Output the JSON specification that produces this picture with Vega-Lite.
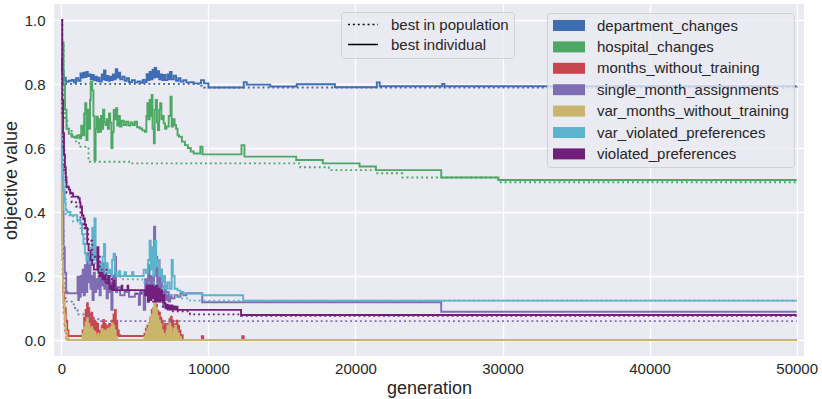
{
"$schema": "https://vega.github.io/schema/vega-lite/v6.json",
"width": 750,
"height": 352,
"autosize": {"type": "none"},
"padding": {"left": 54, "top": 4, "right": 18, "bottom": 43},
"background": "white",
"config": {
  "font": "Liberation Sans",
  "view": {"fill": "#EAEAF2", "stroke": null},
  "axis": {"domain": false, "ticks": false, "gridColor": "#FFFFFF", "gridWidth": 1.3, "labelFont": "Liberation Sans", "labelFontSize": 15, "labelColor": "#262626", "titleFont": "Liberation Sans", "titleFontSize": 18, "titleFontWeight": "normal", "titleColor": "#262626"},
  "legend": {"labelFont": "Liberation Sans", "labelFontSize": 15, "labelColor": "#262626", "labelLimit": 300}
},
"data": {"values": [
{"o":"department_changes","t":"best in population","g":0,"v":0.88},
{"o":"department_changes","t":"best in population","g":100,"v":0.82},
{"o":"department_changes","t":"best in population","g":250,"v":0.8},
{"o":"department_changes","t":"best in population","g":9500,"v":0.795},
{"o":"department_changes","t":"best in population","g":9700,"v":0.789},
{"o":"department_changes","t":"best in population","g":50000,"v":0.788},
{"o":"department_changes","t":"best individual","g":0,"v":0.88},
{"o":"department_changes","t":"best individual","g":40,"v":0.84},
{"o":"department_changes","t":"best individual","g":150,"v":0.82},
{"o":"department_changes","t":"best individual","g":300,"v":0.807},
{"o":"department_changes","t":"best individual","g":500,"v":0.81},
{"o":"department_changes","t":"best individual","g":700,"v":0.8125},
{"o":"department_changes","t":"best individual","g":850,"v":0.805},
{"o":"department_changes","t":"best individual","g":1000,"v":0.818},
{"o":"department_changes","t":"best individual","g":1150,"v":0.81},
{"o":"department_changes","t":"best individual","g":1300,"v":0.833},
{"o":"department_changes","t":"best individual","g":1400,"v":0.82},
{"o":"department_changes","t":"best individual","g":1500,"v":0.835},
{"o":"department_changes","t":"best individual","g":1600,"v":0.822},
{"o":"department_changes","t":"best individual","g":1700,"v":0.838},
{"o":"department_changes","t":"best individual","g":1800,"v":0.825},
{"o":"department_changes","t":"best individual","g":1900,"v":0.83},
{"o":"department_changes","t":"best individual","g":2000,"v":0.815},
{"o":"department_changes","t":"best individual","g":2100,"v":0.828},
{"o":"department_changes","t":"best individual","g":2200,"v":0.812},
{"o":"department_changes","t":"best individual","g":2300,"v":0.823},
{"o":"department_changes","t":"best individual","g":2400,"v":0.81},
{"o":"department_changes","t":"best individual","g":2500,"v":0.82},
{"o":"department_changes","t":"best individual","g":2600,"v":0.808},
{"o":"department_changes","t":"best individual","g":2750,"v":0.83},
{"o":"department_changes","t":"best individual","g":2850,"v":0.815},
{"o":"department_changes","t":"best individual","g":2900,"v":0.842},
{"o":"department_changes","t":"best individual","g":3000,"v":0.812},
{"o":"department_changes","t":"best individual","g":3100,"v":0.825},
{"o":"department_changes","t":"best individual","g":3200,"v":0.81},
{"o":"department_changes","t":"best individual","g":3300,"v":0.823},
{"o":"department_changes","t":"best individual","g":3400,"v":0.812},
{"o":"department_changes","t":"best individual","g":3500,"v":0.83},
{"o":"department_changes","t":"best individual","g":3600,"v":0.815},
{"o":"department_changes","t":"best individual","g":3700,"v":0.846},
{"o":"department_changes","t":"best individual","g":3800,"v":0.82},
{"o":"department_changes","t":"best individual","g":3900,"v":0.835},
{"o":"department_changes","t":"best individual","g":4000,"v":0.815},
{"o":"department_changes","t":"best individual","g":4150,"v":0.823},
{"o":"department_changes","t":"best individual","g":4300,"v":0.81},
{"o":"department_changes","t":"best individual","g":4450,"v":0.818},
{"o":"department_changes","t":"best individual","g":4600,"v":0.806},
{"o":"department_changes","t":"best individual","g":4800,"v":0.812},
{"o":"department_changes","t":"best individual","g":5000,"v":0.805},
{"o":"department_changes","t":"best individual","g":5200,"v":0.808},
{"o":"department_changes","t":"best individual","g":5400,"v":0.804},
{"o":"department_changes","t":"best individual","g":5550,"v":0.813},
{"o":"department_changes","t":"best individual","g":5700,"v":0.806},
{"o":"department_changes","t":"best individual","g":5800,"v":0.831},
{"o":"department_changes","t":"best individual","g":5900,"v":0.812},
{"o":"department_changes","t":"best individual","g":6000,"v":0.838},
{"o":"department_changes","t":"best individual","g":6100,"v":0.815},
{"o":"department_changes","t":"best individual","g":6200,"v":0.845},
{"o":"department_changes","t":"best individual","g":6300,"v":0.82},
{"o":"department_changes","t":"best individual","g":6350,"v":0.85},
{"o":"department_changes","t":"best individual","g":6450,"v":0.822},
{"o":"department_changes","t":"best individual","g":6550,"v":0.84},
{"o":"department_changes","t":"best individual","g":6650,"v":0.815},
{"o":"department_changes","t":"best individual","g":6750,"v":0.83},
{"o":"department_changes","t":"best individual","g":6850,"v":0.812},
{"o":"department_changes","t":"best individual","g":6950,"v":0.828},
{"o":"department_changes","t":"best individual","g":7050,"v":0.812},
{"o":"department_changes","t":"best individual","g":7200,"v":0.83},
{"o":"department_changes","t":"best individual","g":7300,"v":0.815},
{"o":"department_changes","t":"best individual","g":7380,"v":0.838},
{"o":"department_changes","t":"best individual","g":7500,"v":0.815},
{"o":"department_changes","t":"best individual","g":7650,"v":0.826},
{"o":"department_changes","t":"best individual","g":7800,"v":0.81},
{"o":"department_changes","t":"best individual","g":7950,"v":0.818},
{"o":"department_changes","t":"best individual","g":8100,"v":0.808},
{"o":"department_changes","t":"best individual","g":8300,"v":0.812},
{"o":"department_changes","t":"best individual","g":8500,"v":0.805},
{"o":"department_changes","t":"best individual","g":8800,"v":0.806},
{"o":"department_changes","t":"best individual","g":9000,"v":0.802},
{"o":"department_changes","t":"best individual","g":9500,"v":0.812},
{"o":"department_changes","t":"best individual","g":9700,"v":0.802},
{"o":"department_changes","t":"best individual","g":10000,"v":0.789},
{"o":"department_changes","t":"best individual","g":12400,"v":0.806},
{"o":"department_changes","t":"best individual","g":12600,"v":0.798},
{"o":"department_changes","t":"best individual","g":14200,"v":0.792},
{"o":"department_changes","t":"best individual","g":16000,"v":0.799},
{"o":"department_changes","t":"best individual","g":18600,"v":0.79},
{"o":"department_changes","t":"best individual","g":21450,"v":0.805},
{"o":"department_changes","t":"best individual","g":21650,"v":0.793},
{"o":"department_changes","t":"best individual","g":25900,"v":0.8},
{"o":"department_changes","t":"best individual","g":26050,"v":0.793},
{"o":"department_changes","t":"best individual","g":50000,"v":0.793},

{"o":"hospital_changes","t":"best in population","g":0,"v":0.93},
{"o":"hospital_changes","t":"best in population","g":150,"v":0.75},
{"o":"hospital_changes","t":"best in population","g":250,"v":0.69},
{"o":"hospital_changes","t":"best in population","g":400,"v":0.66},
{"o":"hospital_changes","t":"best in population","g":700,"v":0.64},
{"o":"hospital_changes","t":"best in population","g":1000,"v":0.615},
{"o":"hospital_changes","t":"best in population","g":1300,"v":0.604},
{"o":"hospital_changes","t":"best in population","g":1850,"v":0.557},
{"o":"hospital_changes","t":"best in population","g":4700,"v":0.552},
{"o":"hospital_changes","t":"best in population","g":16250,"v":0.54},
{"o":"hospital_changes","t":"best in population","g":18190,"v":0.531},
{"o":"hospital_changes","t":"best in population","g":21390,"v":0.521},
{"o":"hospital_changes","t":"best in population","g":23190,"v":0.508},
{"o":"hospital_changes","t":"best in population","g":29720,"v":0.493},
{"o":"hospital_changes","t":"best in population","g":50000,"v":0.493},
{"o":"hospital_changes","t":"best individual","g":0,"v":0.93},
{"o":"hospital_changes","t":"best individual","g":150,"v":0.8},
{"o":"hospital_changes","t":"best individual","g":250,"v":0.72},
{"o":"hospital_changes","t":"best individual","g":350,"v":0.66},
{"o":"hospital_changes","t":"best individual","g":500,"v":0.645},
{"o":"hospital_changes","t":"best individual","g":700,"v":0.635},
{"o":"hospital_changes","t":"best individual","g":900,"v":0.632},
{"o":"hospital_changes","t":"best individual","g":1100,"v":0.64},
{"o":"hospital_changes","t":"best individual","g":1250,"v":0.63},
{"o":"hospital_changes","t":"best individual","g":1350,"v":0.67},
{"o":"hospital_changes","t":"best individual","g":1450,"v":0.64},
{"o":"hospital_changes","t":"best individual","g":1550,"v":0.708},
{"o":"hospital_changes","t":"best individual","g":1620,"v":0.74},
{"o":"hospital_changes","t":"best individual","g":1700,"v":0.625},
{"o":"hospital_changes","t":"best individual","g":1780,"v":0.72},
{"o":"hospital_changes","t":"best individual","g":1850,"v":0.66},
{"o":"hospital_changes","t":"best individual","g":1950,"v":0.75},
{"o":"hospital_changes","t":"best individual","g":2000,"v":0.807},
{"o":"hospital_changes","t":"best individual","g":2100,"v":0.78},
{"o":"hospital_changes","t":"best individual","g":2180,"v":0.7},
{"o":"hospital_changes","t":"best individual","g":2250,"v":0.5625},
{"o":"hospital_changes","t":"best individual","g":2330,"v":0.66},
{"o":"hospital_changes","t":"best individual","g":2400,"v":0.698},
{"o":"hospital_changes","t":"best individual","g":2480,"v":0.65},
{"o":"hospital_changes","t":"best individual","g":2560,"v":0.69},
{"o":"hospital_changes","t":"best individual","g":2620,"v":0.651},
{"o":"hospital_changes","t":"best individual","g":2700,"v":0.7},
{"o":"hospital_changes","t":"best individual","g":2780,"v":0.66},
{"o":"hospital_changes","t":"best individual","g":2840,"v":0.72},
{"o":"hospital_changes","t":"best individual","g":2920,"v":0.68},
{"o":"hospital_changes","t":"best individual","g":3000,"v":0.672},
{"o":"hospital_changes","t":"best individual","g":3080,"v":0.69},
{"o":"hospital_changes","t":"best individual","g":3160,"v":0.66},
{"o":"hospital_changes","t":"best individual","g":3240,"v":0.708},
{"o":"hospital_changes","t":"best individual","g":3320,"v":0.68},
{"o":"hospital_changes","t":"best individual","g":3400,"v":0.6},
{"o":"hospital_changes","t":"best individual","g":3480,"v":0.65},
{"o":"hospital_changes","t":"best individual","g":3560,"v":0.719},
{"o":"hospital_changes","t":"best individual","g":3640,"v":0.69},
{"o":"hospital_changes","t":"best individual","g":3720,"v":0.724},
{"o":"hospital_changes","t":"best individual","g":3800,"v":0.67},
{"o":"hospital_changes","t":"best individual","g":3880,"v":0.7},
{"o":"hospital_changes","t":"best individual","g":3980,"v":0.667},
{"o":"hospital_changes","t":"best individual","g":4100,"v":0.685},
{"o":"hospital_changes","t":"best individual","g":4250,"v":0.672},
{"o":"hospital_changes","t":"best individual","g":4400,"v":0.682},
{"o":"hospital_changes","t":"best individual","g":4550,"v":0.67},
{"o":"hospital_changes","t":"best individual","g":4700,"v":0.68},
{"o":"hospital_changes","t":"best individual","g":4850,"v":0.672},
{"o":"hospital_changes","t":"best individual","g":5000,"v":0.682},
{"o":"hospital_changes","t":"best individual","g":5150,"v":0.665},
{"o":"hospital_changes","t":"best individual","g":5340,"v":0.661},
{"o":"hospital_changes","t":"best individual","g":5500,"v":0.655},
{"o":"hospital_changes","t":"best individual","g":5680,"v":0.651},
{"o":"hospital_changes","t":"best individual","g":5780,"v":0.7},
{"o":"hospital_changes","t":"best individual","g":5850,"v":0.74},
{"o":"hospital_changes","t":"best individual","g":5920,"v":0.69},
{"o":"hospital_changes","t":"best individual","g":6000,"v":0.75},
{"o":"hospital_changes","t":"best individual","g":6080,"v":0.7},
{"o":"hospital_changes","t":"best individual","g":6140,"v":0.766},
{"o":"hospital_changes","t":"best individual","g":6200,"v":0.66},
{"o":"hospital_changes","t":"best individual","g":6290,"v":0.615},
{"o":"hospital_changes","t":"best individual","g":6350,"v":0.72},
{"o":"hospital_changes","t":"best individual","g":6420,"v":0.75},
{"o":"hospital_changes","t":"best individual","g":6500,"v":0.68},
{"o":"hospital_changes","t":"best individual","g":6570,"v":0.656},
{"o":"hospital_changes","t":"best individual","g":6650,"v":0.72},
{"o":"hospital_changes","t":"best individual","g":6720,"v":0.74},
{"o":"hospital_changes","t":"best individual","g":6800,"v":0.69},
{"o":"hospital_changes","t":"best individual","g":6880,"v":0.7},
{"o":"hospital_changes","t":"best individual","g":6960,"v":0.677},
{"o":"hospital_changes","t":"best individual","g":7050,"v":0.66},
{"o":"hospital_changes","t":"best individual","g":7150,"v":0.667},
{"o":"hospital_changes","t":"best individual","g":7300,"v":0.7},
{"o":"hospital_changes","t":"best individual","g":7420,"v":0.76},
{"o":"hospital_changes","t":"best individual","g":7500,"v":0.667},
{"o":"hospital_changes","t":"best individual","g":7600,"v":0.69},
{"o":"hospital_changes","t":"best individual","g":7700,"v":0.672},
{"o":"hospital_changes","t":"best individual","g":7800,"v":0.66},
{"o":"hospital_changes","t":"best individual","g":7900,"v":0.64},
{"o":"hospital_changes","t":"best individual","g":8000,"v":0.635},
{"o":"hospital_changes","t":"best individual","g":8200,"v":0.62},
{"o":"hospital_changes","t":"best individual","g":8400,"v":0.609},
{"o":"hospital_changes","t":"best individual","g":8600,"v":0.6},
{"o":"hospital_changes","t":"best individual","g":8800,"v":0.589},
{"o":"hospital_changes","t":"best individual","g":9000,"v":0.583},
{"o":"hospital_changes","t":"best individual","g":9450,"v":0.604},
{"o":"hospital_changes","t":"best individual","g":9600,"v":0.58},
{"o":"hospital_changes","t":"best individual","g":12250,"v":0.609},
{"o":"hospital_changes","t":"best individual","g":12450,"v":0.573},
{"o":"hospital_changes","t":"best individual","g":15970,"v":0.5625},
{"o":"hospital_changes","t":"best individual","g":17780,"v":0.552},
{"o":"hospital_changes","t":"best individual","g":20280,"v":0.542},
{"o":"hospital_changes","t":"best individual","g":21390,"v":0.531},
{"o":"hospital_changes","t":"best individual","g":25830,"v":0.508},
{"o":"hospital_changes","t":"best individual","g":29720,"v":0.5},
{"o":"hospital_changes","t":"best individual","g":50000,"v":0.5},

{"o":"months_without_training","t":"best in population","g":0,"v":0.45},
{"o":"months_without_training","t":"best in population","g":80,"v":0.2},
{"o":"months_without_training","t":"best in population","g":150,"v":0.08},
{"o":"months_without_training","t":"best in population","g":250,"v":0.03},
{"o":"months_without_training","t":"best in population","g":350,"v":0},
{"o":"months_without_training","t":"best in population","g":50000,"v":0},
{"o":"months_without_training","t":"best individual","g":0,"v":0.45},
{"o":"months_without_training","t":"best individual","g":60,"v":0.3},
{"o":"months_without_training","t":"best individual","g":120,"v":0.15},
{"o":"months_without_training","t":"best individual","g":200,"v":0.1},
{"o":"months_without_training","t":"best individual","g":300,"v":0.06},
{"o":"months_without_training","t":"best individual","g":400,"v":0.03},
{"o":"months_without_training","t":"best individual","g":480,"v":0.0125},
{"o":"months_without_training","t":"best individual","g":1450,"v":0.03},
{"o":"months_without_training","t":"best individual","g":1500,"v":0.0125},
{"o":"months_without_training","t":"best individual","g":1550,"v":0.07},
{"o":"months_without_training","t":"best individual","g":1600,"v":0.0125},
{"o":"months_without_training","t":"best individual","g":1650,"v":0.094},
{"o":"months_without_training","t":"best individual","g":1700,"v":0.0125},
{"o":"months_without_training","t":"best individual","g":1750,"v":0.115},
{"o":"months_without_training","t":"best individual","g":1800,"v":0.0125},
{"o":"months_without_training","t":"best individual","g":1850,"v":0.1},
{"o":"months_without_training","t":"best individual","g":1900,"v":0.0125},
{"o":"months_without_training","t":"best individual","g":1950,"v":0.08},
{"o":"months_without_training","t":"best individual","g":2000,"v":0.0125},
{"o":"months_without_training","t":"best individual","g":2050,"v":0.085},
{"o":"months_without_training","t":"best individual","g":2100,"v":0.0125},
{"o":"months_without_training","t":"best individual","g":2150,"v":0.07},
{"o":"months_without_training","t":"best individual","g":2200,"v":0.0125},
{"o":"months_without_training","t":"best individual","g":2250,"v":0.06},
{"o":"months_without_training","t":"best individual","g":2300,"v":0.0125},
{"o":"months_without_training","t":"best individual","g":2350,"v":0.055},
{"o":"months_without_training","t":"best individual","g":2400,"v":0.0125},
{"o":"months_without_training","t":"best individual","g":2450,"v":0.05},
{"o":"months_without_training","t":"best individual","g":2500,"v":0.0125},
{"o":"months_without_training","t":"best individual","g":2550,"v":0.03},
{"o":"months_without_training","t":"best individual","g":2600,"v":0.0125},
{"o":"months_without_training","t":"best individual","g":2650,"v":0.02},
{"o":"months_without_training","t":"best individual","g":2700,"v":0.0125},
{"o":"months_without_training","t":"best individual","g":2750,"v":0.045},
{"o":"months_without_training","t":"best individual","g":2800,"v":0.0125},
{"o":"months_without_training","t":"best individual","g":2850,"v":0.0625},
{"o":"months_without_training","t":"best individual","g":2900,"v":0.0125},
{"o":"months_without_training","t":"best individual","g":2950,"v":0.05},
{"o":"months_without_training","t":"best individual","g":3000,"v":0.0125},
{"o":"months_without_training","t":"best individual","g":3050,"v":0.045},
{"o":"months_without_training","t":"best individual","g":3100,"v":0.0125},
{"o":"months_without_training","t":"best individual","g":3150,"v":0.04},
{"o":"months_without_training","t":"best individual","g":3200,"v":0.0125},
{"o":"months_without_training","t":"best individual","g":3250,"v":0.05},
{"o":"months_without_training","t":"best individual","g":3300,"v":0.0125},
{"o":"months_without_training","t":"best individual","g":3350,"v":0.045},
{"o":"months_without_training","t":"best individual","g":3400,"v":0.0125},
{"o":"months_without_training","t":"best individual","g":3450,"v":0.06},
{"o":"months_without_training","t":"best individual","g":3500,"v":0.0125},
{"o":"months_without_training","t":"best individual","g":3550,"v":0.08},
{"o":"months_without_training","t":"best individual","g":3600,"v":0.0125},
{"o":"months_without_training","t":"best individual","g":3650,"v":0.094},
{"o":"months_without_training","t":"best individual","g":3700,"v":0.0125},
{"o":"months_without_training","t":"best individual","g":3750,"v":0.06},
{"o":"months_without_training","t":"best individual","g":3800,"v":0.0125},
{"o":"months_without_training","t":"best individual","g":3850,"v":0.03},
{"o":"months_without_training","t":"best individual","g":3900,"v":0.0125},
{"o":"months_without_training","t":"best individual","g":3950,"v":0.015},
{"o":"months_without_training","t":"best individual","g":4000,"v":0.0125},
{"o":"months_without_training","t":"best individual","g":5650,"v":0.02},
{"o":"months_without_training","t":"best individual","g":5700,"v":0.0125},
{"o":"months_without_training","t":"best individual","g":5750,"v":0.035},
{"o":"months_without_training","t":"best individual","g":5800,"v":0.0125},
{"o":"months_without_training","t":"best individual","g":5850,"v":0.045},
{"o":"months_without_training","t":"best individual","g":5900,"v":0.0125},
{"o":"months_without_training","t":"best individual","g":5950,"v":0.052},
{"o":"months_without_training","t":"best individual","g":6000,"v":0.0125},
{"o":"months_without_training","t":"best individual","g":6050,"v":0.07},
{"o":"months_without_training","t":"best individual","g":6100,"v":0.0125},
{"o":"months_without_training","t":"best individual","g":6150,"v":0.094},
{"o":"months_without_training","t":"best individual","g":6200,"v":0.0125},
{"o":"months_without_training","t":"best individual","g":6250,"v":0.1},
{"o":"months_without_training","t":"best individual","g":6300,"v":0.0125},
{"o":"months_without_training","t":"best individual","g":6350,"v":0.115},
{"o":"months_without_training","t":"best individual","g":6400,"v":0.0125},
{"o":"months_without_training","t":"best individual","g":6450,"v":0.11},
{"o":"months_without_training","t":"best individual","g":6500,"v":0.0125},
{"o":"months_without_training","t":"best individual","g":6550,"v":0.09},
{"o":"months_without_training","t":"best individual","g":6600,"v":0.0125},
{"o":"months_without_training","t":"best individual","g":6650,"v":0.085},
{"o":"months_without_training","t":"best individual","g":6700,"v":0.0125},
{"o":"months_without_training","t":"best individual","g":6750,"v":0.07},
{"o":"months_without_training","t":"best individual","g":6800,"v":0.0125},
{"o":"months_without_training","t":"best individual","g":6850,"v":0.06},
{"o":"months_without_training","t":"best individual","g":6900,"v":0.0125},
{"o":"months_without_training","t":"best individual","g":6950,"v":0.04},
{"o":"months_without_training","t":"best individual","g":7000,"v":0.0125},
{"o":"months_without_training","t":"best individual","g":7050,"v":0.05},
{"o":"months_without_training","t":"best individual","g":7100,"v":0.0125},
{"o":"months_without_training","t":"best individual","g":7150,"v":0.03},
{"o":"months_without_training","t":"best individual","g":7200,"v":0.0125},
{"o":"months_without_training","t":"best individual","g":7250,"v":0.05},
{"o":"months_without_training","t":"best individual","g":7300,"v":0.0125},
{"o":"months_without_training","t":"best individual","g":7350,"v":0.065},
{"o":"months_without_training","t":"best individual","g":7400,"v":0.0125},
{"o":"months_without_training","t":"best individual","g":7450,"v":0.073},
{"o":"months_without_training","t":"best individual","g":7500,"v":0.0125},
{"o":"months_without_training","t":"best individual","g":7550,"v":0.06},
{"o":"months_without_training","t":"best individual","g":7600,"v":0.0125},
{"o":"months_without_training","t":"best individual","g":7650,"v":0.04},
{"o":"months_without_training","t":"best individual","g":7700,"v":0.0125},
{"o":"months_without_training","t":"best individual","g":7750,"v":0.05},
{"o":"months_without_training","t":"best individual","g":7800,"v":0.0125},
{"o":"months_without_training","t":"best individual","g":7850,"v":0.06},
{"o":"months_without_training","t":"best individual","g":7900,"v":0.0125},
{"o":"months_without_training","t":"best individual","g":7950,"v":0.045},
{"o":"months_without_training","t":"best individual","g":8000,"v":0.0125},
{"o":"months_without_training","t":"best individual","g":8050,"v":0.03},
{"o":"months_without_training","t":"best individual","g":8100,"v":0.0125},
{"o":"months_without_training","t":"best individual","g":8150,"v":0.015},
{"o":"months_without_training","t":"best individual","g":8250,"v":0},
{"o":"months_without_training","t":"best individual","g":9550,"v":0.012},
{"o":"months_without_training","t":"best individual","g":9650,"v":0},
{"o":"months_without_training","t":"best individual","g":12300,"v":0.012},
{"o":"months_without_training","t":"best individual","g":12400,"v":0},
{"o":"months_without_training","t":"best individual","g":50000,"v":0},

{"o":"single_month_assignments","t":"best in population","g":0,"v":0.55},
{"o":"single_month_assignments","t":"best in population","g":80,"v":0.35},
{"o":"single_month_assignments","t":"best in population","g":150,"v":0.2},
{"o":"single_month_assignments","t":"best in population","g":280,"v":0.12},
{"o":"single_month_assignments","t":"best in population","g":850,"v":0.1},
{"o":"single_month_assignments","t":"best in population","g":1100,"v":0.08},
{"o":"single_month_assignments","t":"best in population","g":2000,"v":0.065},
{"o":"single_month_assignments","t":"best in population","g":2600,"v":0.059},
{"o":"single_month_assignments","t":"best in population","g":50000,"v":0.059},
{"o":"single_month_assignments","t":"best individual","g":0,"v":0.55},
{"o":"single_month_assignments","t":"best individual","g":80,"v":0.4},
{"o":"single_month_assignments","t":"best individual","g":150,"v":0.29},
{"o":"single_month_assignments","t":"best individual","g":230,"v":0.21},
{"o":"single_month_assignments","t":"best individual","g":330,"v":0.151},
{"o":"single_month_assignments","t":"best individual","g":400,"v":0.146},
{"o":"single_month_assignments","t":"best individual","g":1100,"v":0.198},
{"o":"single_month_assignments","t":"best individual","g":1150,"v":0.125},
{"o":"single_month_assignments","t":"best individual","g":1200,"v":0.198},
{"o":"single_month_assignments","t":"best individual","g":1260,"v":0.135},
{"o":"single_month_assignments","t":"best individual","g":1320,"v":0.2},
{"o":"single_month_assignments","t":"best individual","g":1380,"v":0.15},
{"o":"single_month_assignments","t":"best individual","g":1450,"v":0.22},
{"o":"single_month_assignments","t":"best individual","g":1520,"v":0.14},
{"o":"single_month_assignments","t":"best individual","g":1600,"v":0.234},
{"o":"single_month_assignments","t":"best individual","g":1680,"v":0.15},
{"o":"single_month_assignments","t":"best individual","g":1760,"v":0.271},
{"o":"single_month_assignments","t":"best individual","g":1820,"v":0.18},
{"o":"single_month_assignments","t":"best individual","g":1900,"v":0.25},
{"o":"single_month_assignments","t":"best individual","g":1980,"v":0.16},
{"o":"single_month_assignments","t":"best individual","g":2050,"v":0.2},
{"o":"single_month_assignments","t":"best individual","g":2120,"v":0.125},
{"o":"single_month_assignments","t":"best individual","g":2200,"v":0.21},
{"o":"single_month_assignments","t":"best individual","g":2280,"v":0.15},
{"o":"single_month_assignments","t":"best individual","g":2360,"v":0.19},
{"o":"single_month_assignments","t":"best individual","g":2440,"v":0.16},
{"o":"single_month_assignments","t":"best individual","g":2520,"v":0.2},
{"o":"single_month_assignments","t":"best individual","g":2600,"v":0.14},
{"o":"single_month_assignments","t":"best individual","g":2680,"v":0.24},
{"o":"single_month_assignments","t":"best individual","g":2760,"v":0.17},
{"o":"single_month_assignments","t":"best individual","g":2840,"v":0.24},
{"o":"single_month_assignments","t":"best individual","g":2920,"v":0.16},
{"o":"single_month_assignments","t":"best individual","g":3000,"v":0.21},
{"o":"single_month_assignments","t":"best individual","g":3080,"v":0.13},
{"o":"single_month_assignments","t":"best individual","g":3160,"v":0.2},
{"o":"single_month_assignments","t":"best individual","g":3240,"v":0.15},
{"o":"single_month_assignments","t":"best individual","g":3320,"v":0.18},
{"o":"single_month_assignments","t":"best individual","g":3400,"v":0.094},
{"o":"single_month_assignments","t":"best individual","g":3480,"v":0.2},
{"o":"single_month_assignments","t":"best individual","g":3560,"v":0.16},
{"o":"single_month_assignments","t":"best individual","g":3640,"v":0.26},
{"o":"single_month_assignments","t":"best individual","g":3720,"v":0.15},
{"o":"single_month_assignments","t":"best individual","g":3800,"v":0.165},
{"o":"single_month_assignments","t":"best individual","g":4000,"v":0.14},
{"o":"single_month_assignments","t":"best individual","g":4300,"v":0.15},
{"o":"single_month_assignments","t":"best individual","g":4600,"v":0.135},
{"o":"single_month_assignments","t":"best individual","g":5000,"v":0.145},
{"o":"single_month_assignments","t":"best individual","g":5270,"v":0.11},
{"o":"single_month_assignments","t":"best individual","g":5350,"v":0.15},
{"o":"single_month_assignments","t":"best individual","g":5600,"v":0.094},
{"o":"single_month_assignments","t":"best individual","g":5700,"v":0.19},
{"o":"single_month_assignments","t":"best individual","g":5800,"v":0.15},
{"o":"single_month_assignments","t":"best individual","g":5900,"v":0.234},
{"o":"single_month_assignments","t":"best individual","g":6000,"v":0.16},
{"o":"single_month_assignments","t":"best individual","g":6100,"v":0.2},
{"o":"single_month_assignments","t":"best individual","g":6200,"v":0.15},
{"o":"single_month_assignments","t":"best individual","g":6300,"v":0.354},
{"o":"single_month_assignments","t":"best individual","g":6380,"v":0.2},
{"o":"single_month_assignments","t":"best individual","g":6450,"v":0.26},
{"o":"single_month_assignments","t":"best individual","g":6520,"v":0.15},
{"o":"single_month_assignments","t":"best individual","g":6600,"v":0.25},
{"o":"single_month_assignments","t":"best individual","g":6680,"v":0.13},
{"o":"single_month_assignments","t":"best individual","g":6760,"v":0.22},
{"o":"single_month_assignments","t":"best individual","g":6840,"v":0.15},
{"o":"single_month_assignments","t":"best individual","g":6920,"v":0.104},
{"o":"single_month_assignments","t":"best individual","g":7000,"v":0.17},
{"o":"single_month_assignments","t":"best individual","g":7100,"v":0.125},
{"o":"single_month_assignments","t":"best individual","g":7200,"v":0.15},
{"o":"single_month_assignments","t":"best individual","g":7300,"v":0.12},
{"o":"single_month_assignments","t":"best individual","g":7400,"v":0.14},
{"o":"single_month_assignments","t":"best individual","g":7500,"v":0.13},
{"o":"single_month_assignments","t":"best individual","g":7700,"v":0.14},
{"o":"single_month_assignments","t":"best individual","g":7900,"v":0.135},
{"o":"single_month_assignments","t":"best individual","g":8100,"v":0.145},
{"o":"single_month_assignments","t":"best individual","g":8300,"v":0.14},
{"o":"single_month_assignments","t":"best individual","g":8500,"v":0.146},
{"o":"single_month_assignments","t":"best individual","g":9580,"v":0.118},
{"o":"single_month_assignments","t":"best individual","g":25830,"v":0.0885},
{"o":"single_month_assignments","t":"best individual","g":50000,"v":0.0885},

{"o":"var_months_without_training","t":"best in population","g":0,"v":0.75},
{"o":"var_months_without_training","t":"best in population","g":50,"v":0.3},
{"o":"var_months_without_training","t":"best in population","g":120,"v":0.12},
{"o":"var_months_without_training","t":"best in population","g":200,"v":0.05},
{"o":"var_months_without_training","t":"best in population","g":300,"v":0.01},
{"o":"var_months_without_training","t":"best in population","g":400,"v":0},
{"o":"var_months_without_training","t":"best in population","g":50000,"v":0},
{"o":"var_months_without_training","t":"best individual","g":0,"v":0.75},
{"o":"var_months_without_training","t":"best individual","g":30,"v":0.45},
{"o":"var_months_without_training","t":"best individual","g":60,"v":0.25},
{"o":"var_months_without_training","t":"best individual","g":100,"v":0.178},
{"o":"var_months_without_training","t":"best individual","g":150,"v":0.12},
{"o":"var_months_without_training","t":"best individual","g":200,"v":0.08},
{"o":"var_months_without_training","t":"best individual","g":250,"v":0.05},
{"o":"var_months_without_training","t":"best individual","g":300,"v":0.026},
{"o":"var_months_without_training","t":"best individual","g":400,"v":0.005},
{"o":"var_months_without_training","t":"best individual","g":500,"v":0},
{"o":"var_months_without_training","t":"best individual","g":1450,"v":0.02},
{"o":"var_months_without_training","t":"best individual","g":1500,"v":0},
{"o":"var_months_without_training","t":"best individual","g":1550,"v":0.04},
{"o":"var_months_without_training","t":"best individual","g":1600,"v":0},
{"o":"var_months_without_training","t":"best individual","g":1650,"v":0.055},
{"o":"var_months_without_training","t":"best individual","g":1700,"v":0},
{"o":"var_months_without_training","t":"best individual","g":1750,"v":0.068},
{"o":"var_months_without_training","t":"best individual","g":1800,"v":0},
{"o":"var_months_without_training","t":"best individual","g":1850,"v":0.05},
{"o":"var_months_without_training","t":"best individual","g":1900,"v":0},
{"o":"var_months_without_training","t":"best individual","g":1950,"v":0.035},
{"o":"var_months_without_training","t":"best individual","g":2000,"v":0},
{"o":"var_months_without_training","t":"best individual","g":2050,"v":0.04},
{"o":"var_months_without_training","t":"best individual","g":2100,"v":0},
{"o":"var_months_without_training","t":"best individual","g":2150,"v":0.03},
{"o":"var_months_without_training","t":"best individual","g":2200,"v":0},
{"o":"var_months_without_training","t":"best individual","g":2250,"v":0.025},
{"o":"var_months_without_training","t":"best individual","g":2300,"v":0},
{"o":"var_months_without_training","t":"best individual","g":2350,"v":0.01},
{"o":"var_months_without_training","t":"best individual","g":2400,"v":0},
{"o":"var_months_without_training","t":"best individual","g":2450,"v":0.02},
{"o":"var_months_without_training","t":"best individual","g":2500,"v":0},
{"o":"var_months_without_training","t":"best individual","g":2550,"v":0.005},
{"o":"var_months_without_training","t":"best individual","g":2600,"v":0},
{"o":"var_months_without_training","t":"best individual","g":2650,"v":0.02},
{"o":"var_months_without_training","t":"best individual","g":2700,"v":0},
{"o":"var_months_without_training","t":"best individual","g":2750,"v":0.034},
{"o":"var_months_without_training","t":"best individual","g":2800,"v":0},
{"o":"var_months_without_training","t":"best individual","g":2850,"v":0.03},
{"o":"var_months_without_training","t":"best individual","g":2900,"v":0},
{"o":"var_months_without_training","t":"best individual","g":2950,"v":0.025},
{"o":"var_months_without_training","t":"best individual","g":3000,"v":0},
{"o":"var_months_without_training","t":"best individual","g":3050,"v":0.03},
{"o":"var_months_without_training","t":"best individual","g":3100,"v":0},
{"o":"var_months_without_training","t":"best individual","g":3150,"v":0.035},
{"o":"var_months_without_training","t":"best individual","g":3200,"v":0},
{"o":"var_months_without_training","t":"best individual","g":3250,"v":0.03},
{"o":"var_months_without_training","t":"best individual","g":3300,"v":0},
{"o":"var_months_without_training","t":"best individual","g":3350,"v":0.04},
{"o":"var_months_without_training","t":"best individual","g":3400,"v":0},
{"o":"var_months_without_training","t":"best individual","g":3450,"v":0.052},
{"o":"var_months_without_training","t":"best individual","g":3500,"v":0},
{"o":"var_months_without_training","t":"best individual","g":3550,"v":0.045},
{"o":"var_months_without_training","t":"best individual","g":3600,"v":0},
{"o":"var_months_without_training","t":"best individual","g":3650,"v":0.03},
{"o":"var_months_without_training","t":"best individual","g":3700,"v":0},
{"o":"var_months_without_training","t":"best individual","g":3750,"v":0.01},
{"o":"var_months_without_training","t":"best individual","g":3800,"v":0},
{"o":"var_months_without_training","t":"best individual","g":5650,"v":0.01},
{"o":"var_months_without_training","t":"best individual","g":5700,"v":0},
{"o":"var_months_without_training","t":"best individual","g":5750,"v":0.025},
{"o":"var_months_without_training","t":"best individual","g":5800,"v":0},
{"o":"var_months_without_training","t":"best individual","g":5850,"v":0.035},
{"o":"var_months_without_training","t":"best individual","g":5900,"v":0},
{"o":"var_months_without_training","t":"best individual","g":5950,"v":0.05},
{"o":"var_months_without_training","t":"best individual","g":6000,"v":0},
{"o":"var_months_without_training","t":"best individual","g":6050,"v":0.068},
{"o":"var_months_without_training","t":"best individual","g":6100,"v":0},
{"o":"var_months_without_training","t":"best individual","g":6150,"v":0.08},
{"o":"var_months_without_training","t":"best individual","g":6200,"v":0},
{"o":"var_months_without_training","t":"best individual","g":6250,"v":0.1},
{"o":"var_months_without_training","t":"best individual","g":6300,"v":0},
{"o":"var_months_without_training","t":"best individual","g":6350,"v":0.12},
{"o":"var_months_without_training","t":"best individual","g":6400,"v":0},
{"o":"var_months_without_training","t":"best individual","g":6450,"v":0.1},
{"o":"var_months_without_training","t":"best individual","g":6500,"v":0},
{"o":"var_months_without_training","t":"best individual","g":6550,"v":0.075},
{"o":"var_months_without_training","t":"best individual","g":6600,"v":0},
{"o":"var_months_without_training","t":"best individual","g":6650,"v":0.06},
{"o":"var_months_without_training","t":"best individual","g":6700,"v":0},
{"o":"var_months_without_training","t":"best individual","g":6750,"v":0.05},
{"o":"var_months_without_training","t":"best individual","g":6800,"v":0},
{"o":"var_months_without_training","t":"best individual","g":6850,"v":0.03},
{"o":"var_months_without_training","t":"best individual","g":6900,"v":0},
{"o":"var_months_without_training","t":"best individual","g":6950,"v":0.02},
{"o":"var_months_without_training","t":"best individual","g":7000,"v":0},
{"o":"var_months_without_training","t":"best individual","g":7050,"v":0.01},
{"o":"var_months_without_training","t":"best individual","g":7100,"v":0},
{"o":"var_months_without_training","t":"best individual","g":7150,"v":0.03},
{"o":"var_months_without_training","t":"best individual","g":7200,"v":0},
{"o":"var_months_without_training","t":"best individual","g":7250,"v":0.045},
{"o":"var_months_without_training","t":"best individual","g":7300,"v":0},
{"o":"var_months_without_training","t":"best individual","g":7350,"v":0.052},
{"o":"var_months_without_training","t":"best individual","g":7400,"v":0},
{"o":"var_months_without_training","t":"best individual","g":7450,"v":0.04},
{"o":"var_months_without_training","t":"best individual","g":7500,"v":0},
{"o":"var_months_without_training","t":"best individual","g":7550,"v":0.02},
{"o":"var_months_without_training","t":"best individual","g":7600,"v":0},
{"o":"var_months_without_training","t":"best individual","g":7650,"v":0.035},
{"o":"var_months_without_training","t":"best individual","g":7700,"v":0},
{"o":"var_months_without_training","t":"best individual","g":7750,"v":0.045},
{"o":"var_months_without_training","t":"best individual","g":7800,"v":0},
{"o":"var_months_without_training","t":"best individual","g":7850,"v":0.03},
{"o":"var_months_without_training","t":"best individual","g":7900,"v":0},
{"o":"var_months_without_training","t":"best individual","g":7950,"v":0.02},
{"o":"var_months_without_training","t":"best individual","g":8000,"v":0},
{"o":"var_months_without_training","t":"best individual","g":8050,"v":0.01},
{"o":"var_months_without_training","t":"best individual","g":8100,"v":0},
{"o":"var_months_without_training","t":"best individual","g":50000,"v":0},

{"o":"var_violated_preferences","t":"best in population","g":0,"v":0.72},
{"o":"var_violated_preferences","t":"best in population","g":50,"v":0.55},
{"o":"var_violated_preferences","t":"best in population","g":150,"v":0.45},
{"o":"var_violated_preferences","t":"best in population","g":300,"v":0.39},
{"o":"var_violated_preferences","t":"best in population","g":800,"v":0.37},
{"o":"var_violated_preferences","t":"best in population","g":1300,"v":0.35},
{"o":"var_violated_preferences","t":"best in population","g":1600,"v":0.3},
{"o":"var_violated_preferences","t":"best in population","g":2000,"v":0.24},
{"o":"var_violated_preferences","t":"best in population","g":2500,"v":0.21},
{"o":"var_violated_preferences","t":"best in population","g":3000,"v":0.2},
{"o":"var_violated_preferences","t":"best in population","g":4000,"v":0.19},
{"o":"var_violated_preferences","t":"best in population","g":5500,"v":0.18},
{"o":"var_violated_preferences","t":"best in population","g":6500,"v":0.16},
{"o":"var_violated_preferences","t":"best in population","g":7200,"v":0.14},
{"o":"var_violated_preferences","t":"best in population","g":8000,"v":0.13},
{"o":"var_violated_preferences","t":"best in population","g":8750,"v":0.123},
{"o":"var_violated_preferences","t":"best in population","g":50000,"v":0.123},
{"o":"var_violated_preferences","t":"best individual","g":0,"v":0.72},
{"o":"var_violated_preferences","t":"best individual","g":40,"v":0.6},
{"o":"var_violated_preferences","t":"best individual","g":60,"v":0.54},
{"o":"var_violated_preferences","t":"best individual","g":100,"v":0.5},
{"o":"var_violated_preferences","t":"best individual","g":150,"v":0.47},
{"o":"var_violated_preferences","t":"best individual","g":230,"v":0.43},
{"o":"var_violated_preferences","t":"best individual","g":280,"v":0.406},
{"o":"var_violated_preferences","t":"best individual","g":400,"v":0.4},
{"o":"var_violated_preferences","t":"best individual","g":620,"v":0.39},
{"o":"var_violated_preferences","t":"best individual","g":1080,"v":0.375},
{"o":"var_violated_preferences","t":"best individual","g":1300,"v":0.365},
{"o":"var_violated_preferences","t":"best individual","g":1400,"v":0.33},
{"o":"var_violated_preferences","t":"best individual","g":1500,"v":0.3},
{"o":"var_violated_preferences","t":"best individual","g":1600,"v":0.27},
{"o":"var_violated_preferences","t":"best individual","g":1700,"v":0.25},
{"o":"var_violated_preferences","t":"best individual","g":1800,"v":0.26},
{"o":"var_violated_preferences","t":"best individual","g":1900,"v":0.24},
{"o":"var_violated_preferences","t":"best individual","g":2000,"v":0.25},
{"o":"var_violated_preferences","t":"best individual","g":2100,"v":0.35},
{"o":"var_violated_preferences","t":"best individual","g":2180,"v":0.25},
{"o":"var_violated_preferences","t":"best individual","g":2250,"v":0.38},
{"o":"var_violated_preferences","t":"best individual","g":2330,"v":0.26},
{"o":"var_violated_preferences","t":"best individual","g":2400,"v":0.25},
{"o":"var_violated_preferences","t":"best individual","g":2500,"v":0.22},
{"o":"var_violated_preferences","t":"best individual","g":2600,"v":0.235},
{"o":"var_violated_preferences","t":"best individual","g":2700,"v":0.21},
{"o":"var_violated_preferences","t":"best individual","g":2800,"v":0.26},
{"o":"var_violated_preferences","t":"best individual","g":2900,"v":0.3},
{"o":"var_violated_preferences","t":"best individual","g":2980,"v":0.22},
{"o":"var_violated_preferences","t":"best individual","g":3060,"v":0.24},
{"o":"var_violated_preferences","t":"best individual","g":3150,"v":0.21},
{"o":"var_violated_preferences","t":"best individual","g":3250,"v":0.22},
{"o":"var_violated_preferences","t":"best individual","g":3350,"v":0.2},
{"o":"var_violated_preferences","t":"best individual","g":3450,"v":0.25},
{"o":"var_violated_preferences","t":"best individual","g":3550,"v":0.27},
{"o":"var_violated_preferences","t":"best individual","g":3650,"v":0.21},
{"o":"var_violated_preferences","t":"best individual","g":3750,"v":0.2},
{"o":"var_violated_preferences","t":"best individual","g":3900,"v":0.215},
{"o":"var_violated_preferences","t":"best individual","g":4000,"v":0.2},
{"o":"var_violated_preferences","t":"best individual","g":4300,"v":0.212},
{"o":"var_violated_preferences","t":"best individual","g":4400,"v":0.2},
{"o":"var_violated_preferences","t":"best individual","g":4800,"v":0.212},
{"o":"var_violated_preferences","t":"best individual","g":4900,"v":0.2},
{"o":"var_violated_preferences","t":"best individual","g":5600,"v":0.22},
{"o":"var_violated_preferences","t":"best individual","g":5750,"v":0.21},
{"o":"var_violated_preferences","t":"best individual","g":5900,"v":0.25},
{"o":"var_violated_preferences","t":"best individual","g":6000,"v":0.31},
{"o":"var_violated_preferences","t":"best individual","g":6080,"v":0.22},
{"o":"var_violated_preferences","t":"best individual","g":6150,"v":0.29},
{"o":"var_violated_preferences","t":"best individual","g":6250,"v":0.2},
{"o":"var_violated_preferences","t":"best individual","g":6350,"v":0.31},
{"o":"var_violated_preferences","t":"best individual","g":6450,"v":0.23},
{"o":"var_violated_preferences","t":"best individual","g":6550,"v":0.25},
{"o":"var_violated_preferences","t":"best individual","g":6650,"v":0.2},
{"o":"var_violated_preferences","t":"best individual","g":6750,"v":0.22},
{"o":"var_violated_preferences","t":"best individual","g":6850,"v":0.18},
{"o":"var_violated_preferences","t":"best individual","g":6950,"v":0.2},
{"o":"var_violated_preferences","t":"best individual","g":7050,"v":0.16},
{"o":"var_violated_preferences","t":"best individual","g":7200,"v":0.18},
{"o":"var_violated_preferences","t":"best individual","g":7350,"v":0.16},
{"o":"var_violated_preferences","t":"best individual","g":7500,"v":0.25},
{"o":"var_violated_preferences","t":"best individual","g":7580,"v":0.2},
{"o":"var_violated_preferences","t":"best individual","g":7700,"v":0.16},
{"o":"var_violated_preferences","t":"best individual","g":7900,"v":0.155},
{"o":"var_violated_preferences","t":"best individual","g":8100,"v":0.15},
{"o":"var_violated_preferences","t":"best individual","g":8300,"v":0.145},
{"o":"var_violated_preferences","t":"best individual","g":9580,"v":0.14},
{"o":"var_violated_preferences","t":"best individual","g":12360,"v":0.123},
{"o":"var_violated_preferences","t":"best individual","g":50000,"v":0.123},

{"o":"violated_preferences","t":"best in population","g":0,"v":1.0},
{"o":"violated_preferences","t":"best in population","g":60,"v":0.7},
{"o":"violated_preferences","t":"best in population","g":120,"v":0.6},
{"o":"violated_preferences","t":"best in population","g":200,"v":0.52},
{"o":"violated_preferences","t":"best in population","g":350,"v":0.46},
{"o":"violated_preferences","t":"best in population","g":700,"v":0.43},
{"o":"violated_preferences","t":"best in population","g":1000,"v":0.417},
{"o":"violated_preferences","t":"best in population","g":1300,"v":0.38},
{"o":"violated_preferences","t":"best in population","g":1500,"v":0.35},
{"o":"violated_preferences","t":"best in population","g":1820,"v":0.31},
{"o":"violated_preferences","t":"best in population","g":2100,"v":0.26},
{"o":"violated_preferences","t":"best in population","g":2620,"v":0.22},
{"o":"violated_preferences","t":"best in population","g":3070,"v":0.19},
{"o":"violated_preferences","t":"best in population","g":3500,"v":0.17},
{"o":"violated_preferences","t":"best in population","g":3800,"v":0.155},
{"o":"violated_preferences","t":"best in population","g":5000,"v":0.145},
{"o":"violated_preferences","t":"best in population","g":5900,"v":0.12},
{"o":"violated_preferences","t":"best in population","g":6900,"v":0.1},
{"o":"violated_preferences","t":"best in population","g":7500,"v":0.09},
{"o":"violated_preferences","t":"best in population","g":8750,"v":0.08},
{"o":"violated_preferences","t":"best in population","g":12220,"v":0.076},
{"o":"violated_preferences","t":"best in population","g":50000,"v":0.076},
{"o":"violated_preferences","t":"best individual","g":0,"v":1.0},
{"o":"violated_preferences","t":"best individual","g":60,"v":0.75},
{"o":"violated_preferences","t":"best individual","g":120,"v":0.646},
{"o":"violated_preferences","t":"best individual","g":180,"v":0.58},
{"o":"violated_preferences","t":"best individual","g":240,"v":0.54},
{"o":"violated_preferences","t":"best individual","g":300,"v":0.5},
{"o":"violated_preferences","t":"best individual","g":350,"v":0.479},
{"o":"violated_preferences","t":"best individual","g":510,"v":0.47},
{"o":"violated_preferences","t":"best individual","g":600,"v":0.458},
{"o":"violated_preferences","t":"best individual","g":800,"v":0.448},
{"o":"violated_preferences","t":"best individual","g":1150,"v":0.443},
{"o":"violated_preferences","t":"best individual","g":1250,"v":0.43},
{"o":"violated_preferences","t":"best individual","g":1300,"v":0.417},
{"o":"violated_preferences","t":"best individual","g":1400,"v":0.39},
{"o":"violated_preferences","t":"best individual","g":1500,"v":0.38},
{"o":"violated_preferences","t":"best individual","g":1600,"v":0.36},
{"o":"violated_preferences","t":"best individual","g":1680,"v":0.35},
{"o":"violated_preferences","t":"best individual","g":1760,"v":0.3},
{"o":"violated_preferences","t":"best individual","g":1850,"v":0.28},
{"o":"violated_preferences","t":"best individual","g":1980,"v":0.25},
{"o":"violated_preferences","t":"best individual","g":2100,"v":0.235},
{"o":"violated_preferences","t":"best individual","g":2210,"v":0.22},
{"o":"violated_preferences","t":"best individual","g":2450,"v":0.29},
{"o":"violated_preferences","t":"best individual","g":2520,"v":0.21},
{"o":"violated_preferences","t":"best individual","g":2600,"v":0.2},
{"o":"violated_preferences","t":"best individual","g":2700,"v":0.21},
{"o":"violated_preferences","t":"best individual","g":2800,"v":0.19},
{"o":"violated_preferences","t":"best individual","g":2900,"v":0.2},
{"o":"violated_preferences","t":"best individual","g":3000,"v":0.18},
{"o":"violated_preferences","t":"best individual","g":3100,"v":0.177},
{"o":"violated_preferences","t":"best individual","g":3200,"v":0.2},
{"o":"violated_preferences","t":"best individual","g":3280,"v":0.16},
{"o":"violated_preferences","t":"best individual","g":3400,"v":0.17},
{"o":"violated_preferences","t":"best individual","g":3460,"v":0.156},
{"o":"violated_preferences","t":"best individual","g":3550,"v":0.185},
{"o":"violated_preferences","t":"best individual","g":3620,"v":0.156},
{"o":"violated_preferences","t":"best individual","g":4100,"v":0.17},
{"o":"violated_preferences","t":"best individual","g":4150,"v":0.156},
{"o":"violated_preferences","t":"best individual","g":4500,"v":0.17},
{"o":"violated_preferences","t":"best individual","g":4550,"v":0.156},
{"o":"violated_preferences","t":"best individual","g":5700,"v":0.14},
{"o":"violated_preferences","t":"best individual","g":5800,"v":0.17},
{"o":"violated_preferences","t":"best individual","g":5880,"v":0.12},
{"o":"violated_preferences","t":"best individual","g":5960,"v":0.17},
{"o":"violated_preferences","t":"best individual","g":6040,"v":0.125},
{"o":"violated_preferences","t":"best individual","g":6120,"v":0.17},
{"o":"violated_preferences","t":"best individual","g":6200,"v":0.13},
{"o":"violated_preferences","t":"best individual","g":6280,"v":0.165},
{"o":"violated_preferences","t":"best individual","g":6360,"v":0.12},
{"o":"violated_preferences","t":"best individual","g":6440,"v":0.17},
{"o":"violated_preferences","t":"best individual","g":6520,"v":0.125},
{"o":"violated_preferences","t":"best individual","g":6600,"v":0.16},
{"o":"violated_preferences","t":"best individual","g":6680,"v":0.12},
{"o":"violated_preferences","t":"best individual","g":6760,"v":0.155},
{"o":"violated_preferences","t":"best individual","g":6840,"v":0.125},
{"o":"violated_preferences","t":"best individual","g":6920,"v":0.14},
{"o":"violated_preferences","t":"best individual","g":7000,"v":0.115},
{"o":"violated_preferences","t":"best individual","g":7080,"v":0.099},
{"o":"violated_preferences","t":"best individual","g":7150,"v":0.11},
{"o":"violated_preferences","t":"best individual","g":7230,"v":0.095},
{"o":"violated_preferences","t":"best individual","g":7310,"v":0.108},
{"o":"violated_preferences","t":"best individual","g":7390,"v":0.095},
{"o":"violated_preferences","t":"best individual","g":7470,"v":0.108},
{"o":"violated_preferences","t":"best individual","g":7550,"v":0.095},
{"o":"violated_preferences","t":"best individual","g":7630,"v":0.105},
{"o":"violated_preferences","t":"best individual","g":7710,"v":0.095},
{"o":"violated_preferences","t":"best individual","g":7800,"v":0.104},
{"o":"violated_preferences","t":"best individual","g":7900,"v":0.094},
{"o":"violated_preferences","t":"best individual","g":12220,"v":0.078},
{"o":"violated_preferences","t":"best individual","g":50000,"v":0.078}
]},
"mark": {"type": "line", "interpolate": "step-after", "strokeWidth": 1.9, "clip": true},
"encoding": {
  "x": {"field": "g", "type": "quantitative", "scale": {"domain": [-500, 50500], "nice": false, "zero": false},
        "axis": {"values": [0, 10000, 20000, 30000, 40000, 50000], "format": "d", "title": "generation", "labelPadding": 5, "titlePadding": 3}},
  "y": {"field": "v", "type": "quantitative", "scale": {"domain": [-0.05, 1.05], "nice": false, "zero": false},
        "axis": {"values": [0, 0.2, 0.4, 0.6, 0.8, 1.0], "format": ".1f", "title": "objective value", "labelPadding": 9, "titlePadding": 4}},
  "color": {"field": "o", "type": "nominal",
    "scale": {"domain": ["department_changes", "hospital_changes", "months_without_training", "single_month_assignments", "var_months_without_training", "var_violated_preferences", "violated_preferences"],
              "range": ["#3F6DB3", "#4DA865", "#C8464D", "#7F6CB3", "#CAB56D", "#5CB3CC", "#70207A"]},
    "legend": {"title": null, "orient": "none", "legendX": 493, "legendY": 9, "symbolType": "M-3.25,-2.75H12.75V2.75H-3.25Z", "symbolSize": 16, "symbolStrokeWidth": 0, "labelOffset": 30, "rowPadding": 5.4, "padding": 5, "fillColor": "rgba(234,234,242,0.8)", "strokeColor": "rgba(204,204,204,0.8)", "cornerRadius": 3,
      "encode": {"symbols": {"update": {"fill": {"scale": "color", "field": "value"}, "stroke": {"value": "transparent"}, "strokeWidth": {"value": 0}, "fillOpacity": {"value": 1}}}}}},
  "strokeDash": {"field": "t", "type": "nominal",
    "scale": {"domain": ["best in population", "best individual"], "range": [[1.9, 3], [1, 0]]},
    "legend": {"title": null, "orient": "none", "legendX": 287, "legendY": 8, "symbolType": "M-2.75,0H12.25", "symbolSize": 16, "symbolStrokeWidth": 1.5, "symbolStrokeColor": "#000000", "labelOffset": 30, "rowPadding": 4, "padding": 5, "fillColor": "rgba(234,234,242,0.8)", "strokeColor": "rgba(204,204,204,0.8)", "cornerRadius": 3}}
}
}
